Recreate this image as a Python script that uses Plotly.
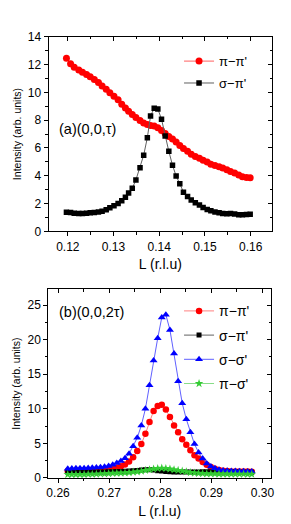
import plotly.graph_objects as go

# ---------------- Panel (a): (0,0,tau) ----------------
a_L = [0.1197, 0.1206, 0.1214, 0.1224, 0.1232, 0.1241, 0.1249, 0.1258, 0.1267, 0.1275,
       0.1284, 0.1292, 0.1301, 0.1310, 0.1318, 0.1326, 0.1333, 0.1341, 0.1349, 0.1358,
       0.1366, 0.1374, 0.1381, 0.1389, 0.1397, 0.1405, 0.1413, 0.1421, 0.1429, 0.1437,
       0.1445, 0.1453, 0.1462, 0.1470, 0.1479, 0.1488, 0.1496, 0.1505, 0.1513, 0.1522,
       0.1531, 0.1539, 0.1548, 0.1556, 0.1565, 0.1574, 0.1582, 0.1591, 0.1599]
a_pi_pi = [12.45, 12.05, 11.80, 11.60, 11.44, 11.28, 11.12, 10.93, 10.70, 10.46,
           10.22, 9.97, 9.71, 9.46, 9.15, 8.88, 8.63, 8.41, 8.18, 7.97,
           7.80, 7.68, 7.62, 7.57, 7.45, 7.26, 7.03, 6.82, 6.65, 6.42,
           6.17, 5.96, 5.76, 5.54, 5.39, 5.25, 5.11, 4.98, 4.83, 4.73,
           4.65, 4.55, 4.43, 4.31, 4.20, 4.05, 3.92, 3.87, 3.86]
a_sigma_pi = [1.37, 1.35, 1.30, 1.28, 1.28, 1.30, 1.33, 1.35, 1.40, 1.45,
              1.55, 1.70, 1.84, 2.00, 2.20, 2.45, 2.75, 3.10, 3.70, 4.57,
              5.48, 6.74, 8.30, 8.86, 8.80, 8.07, 6.85, 5.76, 4.76, 3.98,
              3.43, 2.82, 2.50, 2.25, 2.06, 1.89, 1.72, 1.58, 1.48, 1.40,
              1.34, 1.28, 1.27, 1.28, 1.24, 1.20, 1.20, 1.22, 1.23]

# ---------------- Panel (b): (0,0,2tau) ----------------
b_L = [0.2619, 0.2627, 0.2635, 0.2643, 0.2651, 0.2659, 0.2667, 0.2675, 0.2683, 0.2691,
       0.2699, 0.2707, 0.2715, 0.2723, 0.2731, 0.2739, 0.2747, 0.2755, 0.2763, 0.2771,
       0.2779, 0.2787, 0.2795, 0.2803, 0.2811, 0.2819, 0.2827, 0.2835, 0.2843, 0.2851,
       0.2859, 0.2867, 0.2875, 0.2883, 0.2891, 0.2899, 0.2907, 0.2915, 0.2923, 0.2931,
       0.2939, 0.2947, 0.2955, 0.2963, 0.2971, 0.2979]
b_pi_pi = [1.00, 1.00, 1.00, 1.00, 1.02, 1.05, 1.08, 1.10, 1.15, 1.20,
           1.28, 1.38, 1.50, 1.70, 1.95, 2.40, 3.00, 3.90, 4.90, 6.40,
           8.10, 9.70, 10.40, 10.60, 9.90, 8.80, 7.60, 6.60, 5.60, 4.80,
           4.00, 3.30, 2.80, 2.30, 1.90, 1.60, 1.35, 1.15, 1.05, 1.00,
           0.95, 0.95, 0.95, 0.92, 0.92, 0.90]
b_sigma_pi = [0.85, 0.85, 0.85, 0.85, 0.85, 0.86, 0.86, 0.87, 0.88, 0.88,
              0.90, 0.90, 0.92, 0.95, 0.98, 1.00, 1.05, 1.10, 1.15, 1.18,
              1.20, 1.15, 1.05, 1.00, 0.95, 0.90, 0.88, 0.85, 0.85, 0.85,
              0.85, 0.85, 0.88, 0.90, 0.90, 0.90, 0.88, 0.87, 0.86, 0.85,
              0.85, 0.85, 0.84, 0.84, 0.83, 0.83]
b_sigma_sigma = [1.35, 1.38, 1.40, 1.40, 1.42, 1.45, 1.48, 1.50, 1.55, 1.62,
                 1.72, 1.90, 2.15, 2.45, 2.85, 3.50, 4.60, 5.80, 7.60, 10.00,
                 13.40, 17.00, 20.20, 23.20, 23.60, 21.40, 18.00, 14.00, 10.80, 8.50,
                 6.60, 4.90, 3.70, 2.80, 2.10, 1.65, 1.40, 1.20, 1.10, 1.05,
                 1.00, 1.00, 0.98, 0.98, 0.95, 0.95]
b_pi_sigma = [0.50, 0.50, 0.50, 0.52, 0.52, 0.55, 0.55, 0.57, 0.60, 0.62,
              0.65, 0.68, 0.70, 0.72, 0.75, 0.80, 0.85, 0.90, 1.00, 1.10,
              1.20, 1.30, 1.38, 1.42, 1.38, 1.30, 1.20, 1.10, 1.00, 0.90,
              0.80, 0.72, 0.68, 0.65, 0.62, 0.60, 0.60, 0.58, 0.58, 0.58,
              0.57, 0.57, 0.56, 0.56, 0.55, 0.55]

a_xticks = [0.12, 0.13, 0.14, 0.15, 0.16]
a_yticks = [0, 2, 4, 6, 8, 10, 12, 14]
b_xticks = [0.26, 0.27, 0.28, 0.29, 0.30]
b_yticks = [0, 5, 10, 15, 20, 25]

FONT = "Liberation Sans, Arial, sans-serif"
W, H = 291, 524

def px_x(a, b):
    return [a / W, b / W]

def px_y(top, bottom):
    return [1 - bottom / H, 1 - top / H]

dom_ax = px_x(39.3, 266.7)
dom_ay = px_y(22.3, 222.3)
dom_bx = px_x(39.0, 265.7)
dom_by = px_y(281.7, 475.7)

a_xr = [0.1158, 0.1647]
a_yr = [0, 14]
b_xr = [0.2581, 0.3017]
b_yr = [0, 27.3]

fig = go.Figure()

def add(x, y, name, color, lcolor, symbol, size, xa, ya, legend):
    fig.add_trace(go.Scatter(
        x=x, y=y, name=name, mode="lines+markers", legendgroup=legend + name,
        line=dict(color=lcolor, width=1),
        marker=dict(color=color, symbol=symbol, size=size, line=dict(width=0)),
        xaxis=xa, yaxis=ya, legend=legend))

add(a_L, a_pi_pi, "π−π'", "#ff0000", "#ff6060", "circle", 7, "x", "y", "legend")
add(a_L, a_sigma_pi, "σ−π'", "#000000", "#606060", "square", 5.5, "x", "y", "legend")

add(b_L, b_pi_pi, "π−π'", "#ff0000", "#ff8080", "circle", 6.5, "x2", "y2", "legend2")
add(b_L, b_sigma_pi, "σ−π'", "#000000", "#606060", "square", 5, "x2", "y2", "legend2")
add(b_L, b_sigma_sigma, "σ−σ'", "#0000ff", "#6060ff", "triangle-up", 7, "x2", "y2", "legend2")
add(b_L, b_pi_sigma, "π−σ'", "#33cc33", "#88dd88", "star", 6.5, "x2", "y2", "legend2")

def main_axis(dom, rng, tickvals, anchor, title=None, dtick_minor=None, fmt=None):
    d = dict(domain=dom, range=rng, anchor=anchor, tickmode="array", tickvals=tickvals,
             ticks="outside", ticklen=4, tickwidth=1, tickcolor="black",
             showline=True, linecolor="black", linewidth=1, showgrid=False, zeroline=False,
             tickfont=dict(family=FONT, size=12, color="black"),
             minor=dict(dtick=dtick_minor, ticks="outside", ticklen=2.5, tickcolor="black", showgrid=False))
    if fmt:
        d["tickformat"] = fmt
    if title:
        d["title"] = title
    return d

xt = dict(text="L (r.l.u)", font=dict(family=FONT, size=14, color="black"), standoff=6)
yt = dict(text="Intensity (arb. units)", font=dict(family=FONT, size=10.5, color="black"), standoff=4)

layout = dict(
    width=W, height=H, margin=dict(l=0, r=0, t=0, b=0),
    paper_bgcolor="white", plot_bgcolor="white", showlegend=True,
    xaxis=main_axis(dom_ax, a_xr, a_xticks, "y", xt, 0.005, ".2f"),
    yaxis=main_axis(dom_ay, a_yr, a_yticks, "x", yt, 1),
    xaxis2=main_axis(dom_bx, b_xr, b_xticks, "y2", xt, 0.005, ".2f"),
    yaxis2=main_axis(dom_by, b_yr, b_yticks, "x2", yt, 2.5),
)

# mirrored frame axes with inward ticks (top/right)
def mirror_axis(dom, rng, tickvals, overlay, side, minor_dtick, anchor):
    return dict(domain=dom, range=rng, overlaying=overlay, side=side, anchor=anchor,
                tickmode="array", tickvals=tickvals, ticks="inside", ticklen=4, tickcolor="black",
                showticklabels=False, showline=True, linecolor="black", linewidth=1,
                showgrid=False, zeroline=False,
                minor=dict(dtick=minor_dtick, ticks="inside", ticklen=2.5, tickcolor="black", showgrid=False))

layout["xaxis3"] = mirror_axis(dom_ax, a_xr, a_xticks, "x", "top", 0.005, "y")
layout["yaxis3"] = mirror_axis(dom_ay, a_yr, a_yticks, "y", "right", 1, "x")
layout["xaxis4"] = mirror_axis(dom_bx, b_xr, b_xticks, "x2", "top", 0.005, "y2")
layout["yaxis4"] = mirror_axis(dom_by, b_yr, b_yticks, "y2", "right", 2.5, "x2")

layout["legend"] = dict(x=172 / W, y=1 - 32 / H, xanchor="left", yanchor="top",
                        bgcolor="rgba(0,0,0,0)", font=dict(family=FONT, size=13, color="black"),
                        tracegroupgap=2, itemwidth=30)
layout["legend2"] = dict(x=172 / W, y=1 - 288 / H, xanchor="left", yanchor="top",
                         bgcolor="rgba(0,0,0,0)", font=dict(family=FONT, size=14, color="black"),
                         tracegroupgap=3, itemwidth=30)

fig.update_layout(**layout)

# placeholder traces so the overlay frame axes render
for xa, ya in [("x3", "y3"), ("x4", "y4")]:
    fig.add_trace(go.Scatter(x=[None], y=[None], xaxis=xa, yaxis=ya, showlegend=False, hoverinfo="skip"))

fig.add_annotation(text="(a)(0,0,τ)", x=48 / W, y=1 - 117 / H, xref="paper", yref="paper",
                   xanchor="left", yanchor="middle", showarrow=False,
                   font=dict(family=FONT, size=14.5, color="black"))
fig.add_annotation(text="(b)(0,0,2τ)", x=48 / W, y=1 - 305 / H, xref="paper", yref="paper",
                   xanchor="left", yanchor="middle", showarrow=False,
                   font=dict(family=FONT, size=14.5, color="black"))

fig.write_html("out.html")
